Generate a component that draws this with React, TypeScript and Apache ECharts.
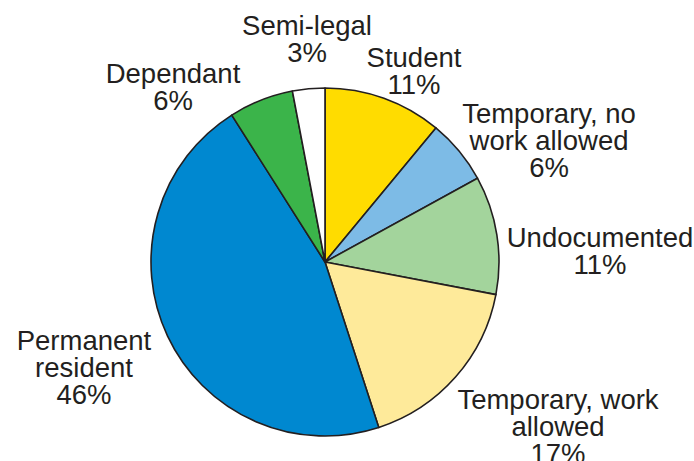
import React, { useEffect, useRef } from "react";
import * as echarts from "echarts";

const categories = [
  "Student",
  "Temporary, no\nwork allowed",
  "Undocumented",
  "Temporary, work\nallowed",
  "Permanent\nresident",
  "Dependant",
  "Semi-legal",
];
const shares = [11, 6, 11, 17, 46, 6, 3];
const colors = ["#FFDC00", "#7DBBE6", "#A3D49C", "#FEEA9A", "#0088D0", "#3BB44A", "#FFFFFF"];
// label centre positions (layout only)
const labelPos: [number, number][] = [
  [414, 71],
  [549, 140],
  [600, 251],
  [558, 426],
  [84, 367],
  [173, 87],
  [307, 39],
];

export default function App() {
  const ref = useRef<HTMLDivElement>(null);
  useEffect(() => {
    const chart = echarts.init(ref.current!, null, { renderer: "svg" });
    chart.setOption({
      animation: false,
      backgroundColor: "#ffffff",
      series: [
        {
          type: "pie",
          center: [325, 262],
          radius: 174,
          startAngle: 90,
          clockwise: true,
          silent: true,
          data: categories.map((name, i) => ({
            name,
            value: shares[i],
            itemStyle: { color: colors[i] },
          })),
          itemStyle: { borderColor: "#231F20", borderWidth: 1.6 },
          label: {
            show: true,
            position: "outside",
            alignTo: "none",
            overflow: "none",
            formatter: (p: any) => `${p.name}\n${p.value}%`,
            fontFamily: "'Liberation Sans', Arial, Helvetica, sans-serif",
            fontSize: 27.5,
            lineHeight: 27,
            color: "#231F20",
            align: "center",
          },
          labelLine: { show: false },
          labelLayout: (params: any) => {
            const p = labelPos[params.dataIndex];
            return { x: p[0], y: p[1], align: "center", verticalAlign: "middle" };
          },
        },
      ],
    });
    return () => chart.dispose();
  }, []);
  return (
    <div
      ref={ref}
      style={{ position: "fixed", left: 0, top: 0, width: 694, height: 461 }}
    />
  );
}
